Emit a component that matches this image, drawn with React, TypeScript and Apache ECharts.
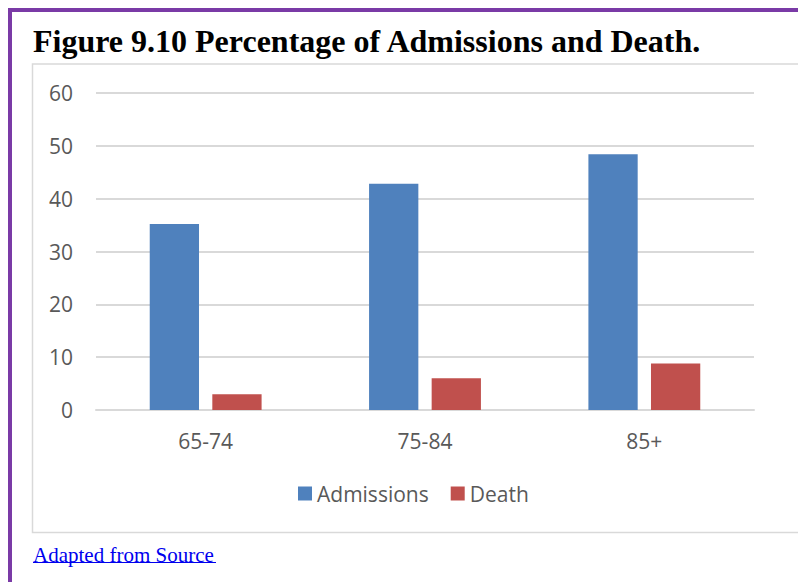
import React, { useEffect, useRef } from "react";
import * as echarts from "echarts";

const categories = ["65-74", "75-84", "85+"];
const admissions = [35.2, 42.8, 48.4];
const death = [3.0, 6.0, 8.8];
const seriesNames = ["Admissions", "Death"];
const titleText = "Figure 9.10 Percentage of Admissions and Death.";
const sourceText = "Adapted from Source";

export default function App() {
  const ref = useRef<HTMLDivElement>(null);
  useEffect(() => {
    const chart = echarts.init(ref.current!, null, { renderer: "svg" });
    const font = "'Open Sans', sans-serif";
    const serif = "'Liberation Serif', 'Times New Roman', serif";
    chart.setOption({
      animation: false,
      backgroundColor: "#ffffff",
      title: {
        text: titleText,
        left: 28,
        top: 20,
        textStyle: {
          fontFamily: serif,
          fontWeight: "bold",
          fontSize: 32,
          color: "#000000",
        },
      },
      grid: { left: 96, right: 44, top: 93, bottom: 172, containLabel: false },
      legend: {
        data: seriesNames,
        left: 293,
        top: 478,
        itemWidth: 14,
        itemHeight: 14,
        itemGap: 22,
        icon: "rect",
        textStyle: { fontFamily: font, fontSize: 21, color: "#595959" },
      },
      xAxis: {
        type: "category",
        data: categories,
        axisLine: { show: true, lineStyle: { color: "#d9d9d9", width: 2 } },
        axisTick: { show: false },
        axisLabel: { fontFamily: font, fontSize: 21, color: "#595959", margin: 20 },
      },
      yAxis: {
        type: "value",
        min: 0,
        max: 60,
        interval: 10,
        axisLine: { show: false },
        axisTick: { show: false },
        axisLabel: { fontFamily: font, fontSize: 21, color: "#595959", margin: 23 },
        splitLine: { lineStyle: { color: "#d9d9d9", width: 2 } },
      },
      series: [
        {
          name: seriesNames[0],
          type: "bar",
          data: admissions,
          barGap: "27%",
          barCategoryGap: "49%",
          itemStyle: { color: "#4f81bd" },
        },
        {
          name: seriesNames[1],
          type: "bar",
          data: death,
          itemStyle: { color: "#c0504d" },
        },
      ],
      graphic: [
        { type: "rect", shape: { x: 8, y: 8, width: 800, height: 4 }, style: { fill: "#7a3aa6" }, z: 10 },
        { type: "rect", shape: { x: 8, y: 8, width: 4, height: 590 }, style: { fill: "#7a3aa6" }, z: 10 },
        {
          type: "rect",
          shape: { x: 32.5, y: 64, width: 800, height: 468.5 },
          style: { fill: "none", stroke: "#d9d9d9", lineWidth: 1.5 },
          z: 0,
        },
        {
          type: "text",
          x: 33,
          y: 544,
          style: {
            text: sourceText,
            fontFamily: serif,
            fontSize: 21,
            fill: "#0000ee",
          },
        },
        {
          type: "line",
          shape: { x1: 33, y1: 562.5, x2: 216, y2: 562.5 },
          style: { stroke: "#0000ee", lineWidth: 1 },
        },
      ],
    });
    return () => chart.dispose();
  }, []);
  return (
    <div
      ref={ref}
      style={{ position: "fixed", left: 0, top: 0, width: 798, height: 582, background: "#fff" }}
    />
  );
}
